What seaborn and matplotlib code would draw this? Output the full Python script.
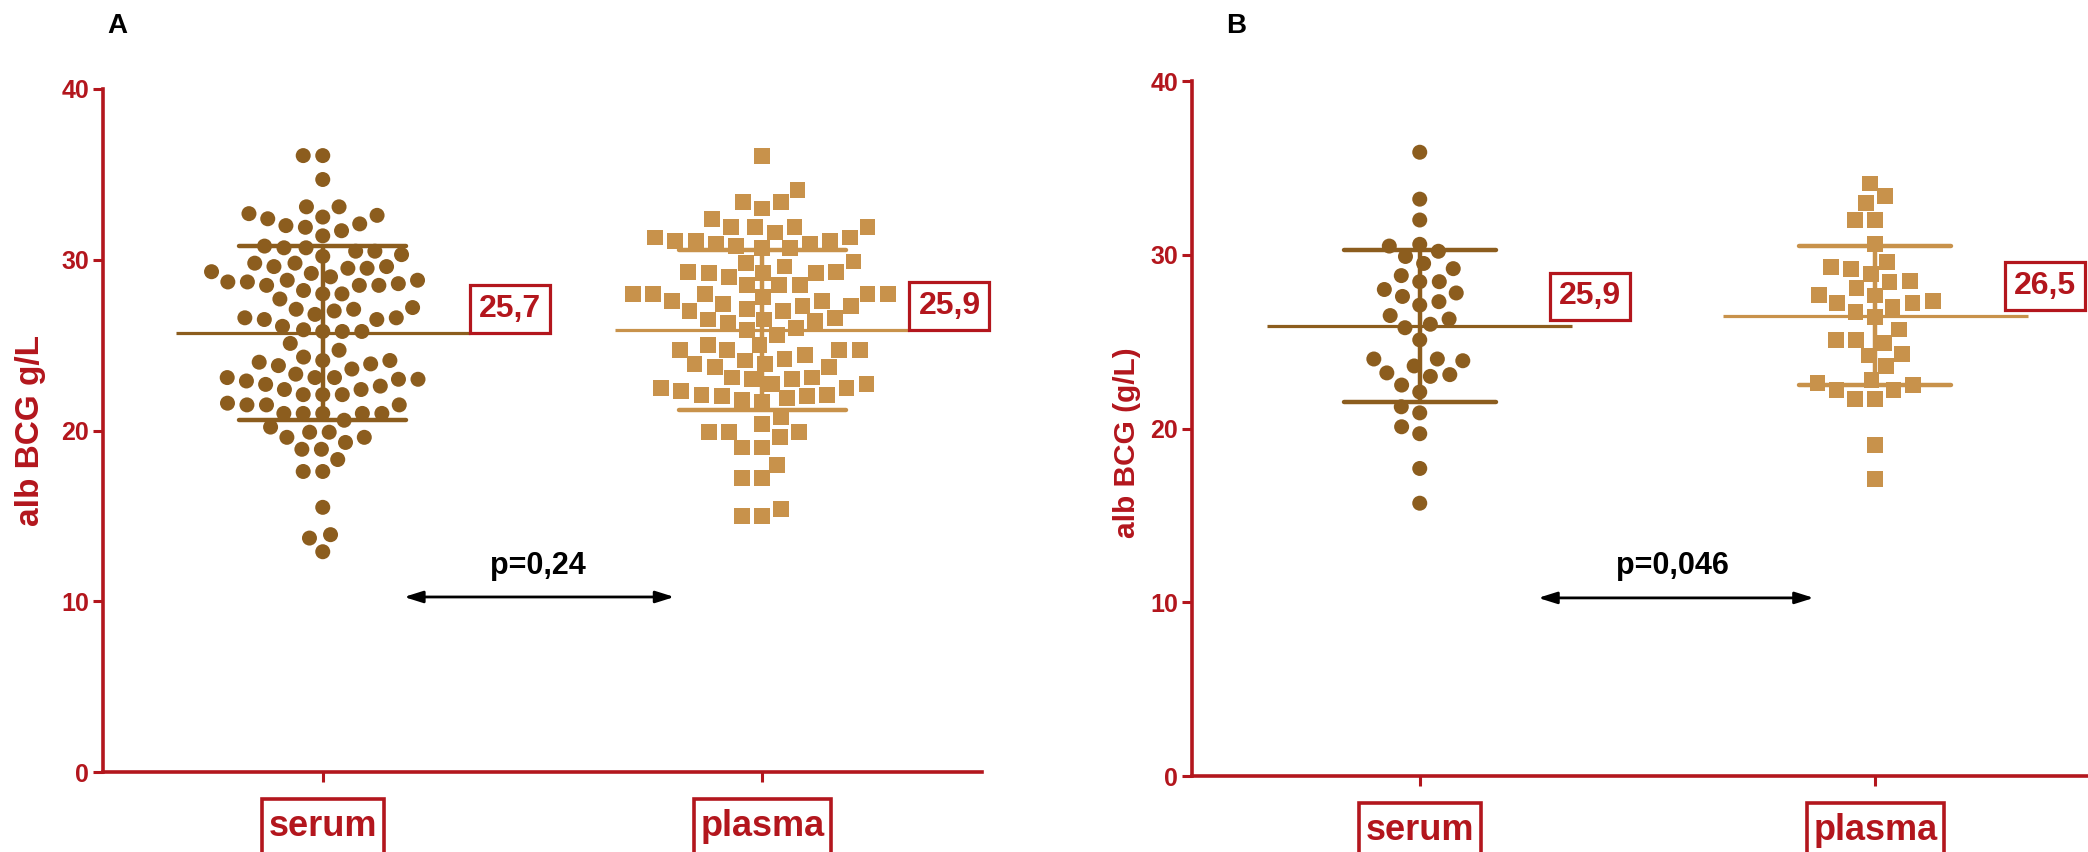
import matplotlib
matplotlib.use("Agg")
import matplotlib.pyplot as plt
from matplotlib.path import Path
import numpy as np
import pandas as pd
import seaborn as sns

sns.set_theme(style="ticks")
plt.rcParams["font.family"] = ["Liberation Sans", "DejaVu Sans"]
plt.rcParams["font.weight"] = "bold"

# ---- data -------------------------------------------------------------
groups = ["serum", "plasma"]

serum_a = [36.1, 36.1, 34.7, 33.1, 33.1,
           32.7, 32.5, 32.1, 31.9, 31.4, 31.7, 32.0, 32.4, 32.6,
           30.7, 30.5, 30.3, 30.5, 30.2, 30.7, 30.8,
           29.8, 29.6, 29.5, 29.2, 29.5, 29.0, 29.3, 29.6, 29.8,
           28.8, 28.7, 28.5, 28.2, 27.7, 28.5, 28.0, 28.5, 28.6, 28.7, 28.8,
           27.2, 27.1, 26.5, 27.0, 28.0, 26.8, 27.1,
           25.8, 26.6, 25.8, 26.1, 26.5, 25.8, 26.6, 25.9,
           25.1, 24.7,
           24.1, 24.0, 23.6, 23.3, 23.8, 24.1, 24.3, 23.9,
           23.1, 23.0, 22.7, 22.4, 22.9, 22.6, 23.0, 23.1, 23.1,
           22.1, 21.5, 21.0, 22.1, 21.0, 21.6, 21.0, 22.1, 21.0, 22.4, 21.0, 21.5, 21.5,
           20.2, 19.9, 20.6, 19.9,
           18.9, 19.6, 19.3, 19.6, 18.9,
           18.3, 17.6, 17.6, 15.5, 13.9, 13.7, 12.9]

plasma_a = [36.1, 34.1, 33.4, 33.4, 33.0, 32.4,
            31.9, 31.9, 31.9, 31.9,
            31.6, 30.9, 31.3, 30.7, 31.1, 31.1, 31.1, 31.3, 30.7, 30.8, 30.9,
            29.9, 29.6, 29.8,
            29.3, 29.3, 29.0, 29.2, 29.2, 29.2,
            28.5, 28.5, 28.5,
            28.0, 28.0, 27.8, 27.6, 28.0, 27.6, 28.0, 28.0,
            27.3, 26.5, 27.1, 27.0, 27.3, 26.6, 27.0, 27.4,
            26.5, 26.0, 26.3, 25.6, 26.4, 25.9,
            25.0, 24.7, 24.7, 24.7, 24.4, 24.7, 25.0,
            24.2, 23.9, 23.7, 23.7, 23.9, 24.1,
            22.7, 22.5, 23.1, 23.0, 23.1, 23.0, 22.5, 22.7,
            22.1, 22.0, 22.0, 21.8, 21.7, 21.9, 22.1, 22.3,
            20.8, 20.4,
            19.9, 19.6, 19.9, 19.9,
            19.0, 19.0, 18.0,
            17.2, 17.2,
            15.4, 15.0, 15.0]

serum_b = [35.9, 33.2, 32.0, 30.6, 30.2, 30.5, 29.9, 29.5, 29.2, 28.8,
           28.45, 28.45, 28.0, 27.6, 27.8, 27.3, 27.1, 26.5, 26.3, 26.0,
           25.8, 25.1, 24.0, 23.9, 24.0, 23.6, 23.1, 23.0, 23.2, 22.5,
           22.1, 21.25, 20.9, 20.1, 19.7, 17.7, 15.7]

plasma_b = [34.1, 33.4, 33.0, 32.0, 32.0, 30.6, 29.6, 29.3, 28.45, 29.2,
            28.9, 28.5, 28.1, 27.7, 27.65, 27.35, 27.2, 27.2, 27.0, 26.7,
            26.4, 25.7, 25.1, 24.2, 24.9, 25.1, 24.3, 23.6, 22.8, 22.5,
            22.6, 22.2, 22.2, 21.7, 21.7, 19.05, 17.1]

means_a = [25.7, 25.9]
sds_a = [5.1, 4.7]
means_b = [25.9, 26.5]
sds_b = [4.4, 4.0]

p_label_a = "p=0,24"
p_label_b = "p=0,046"
ylabel_a = "alb BCG g/L"
ylabel_b = "alb BCG (g/L)"
yticks = [0, 10, 20, 30, 40]

# ---- style ------------------------------------------------------------
RED = "#B3161D"
SERUM_C = "#8C5D1E"
PLASMA_C = "#C8924B"
GROUP_COLORS = [SERUM_C, PLASMA_C]
GROUP_MARKERS = ["o", "s"]
GROUP_SIZES = [10.8, 11.4]

W, H = 2088, 852
fig = plt.figure(figsize=(W / 100, H / 100), dpi=100)


def box_style(pad_x, pad_top, pad_bottom):
    """Rectangular text box with separate horizontal / top / bottom padding."""
    def style(x0, y0, width, height, mutation_size):
        x1 = x0 - pad_x * mutation_size
        x2 = x0 + width + pad_x * mutation_size
        y1 = y0 - pad_bottom * mutation_size
        y2 = y0 + height + pad_top * mutation_size
        return Path([(x1, y1), (x2, y1), (x2, y2), (x1, y2), (x1, y1)],
                    closed=True)
    return style


def add_axes_px(left, width, top, bottom):
    return fig.add_axes([left / W, 1 - bottom / H, width / W, (bottom - top) / H])


ax_a = add_axes_px(103, 879, 89, 772)
ax_b = add_axes_px(1192, 911, 81, 776)

VALUE_FS = 23
VALUE_PX, VALUE_PY = 0.28, 0.28


def draw_panel(ax, serum, plasma, means, sds, sd_half, box_dx, box_dy,
               p_label, arrow_x, p_x, ylabel, ylabel_fs, ylabel_xy, letter,
               letter_xy):
    df = pd.DataFrame({
        "group": ["serum"] * len(serum) + ["plasma"] * len(plasma),
        "value": serum + plasma,
    })
    for g, c, mk, sz in zip(groups, GROUP_COLORS, GROUP_MARKERS, GROUP_SIZES):
        sns.swarmplot(data=df[df["group"] == g], x="group", y="value",
                      order=groups, color=c, marker=mk, size=sz,
                      linewidth=2.6, edgecolor="none", ax=ax, zorder=3)

    for i, (m, s, c) in enumerate(zip(means, sds, GROUP_COLORS)):
        ax.hlines(m, i - 0.335, i + 0.335, color=c, lw=2.3, zorder=4)
        ax.hlines([m - s, m + s], i - sd_half, i + sd_half, color=c, lw=3.2,
                  zorder=4, capstyle="round")
        ax.vlines(i, m - s, m + s, color=c, lw=3.2, zorder=4)
        ax.annotate(f"{m:.1f}".replace(".", ","), xy=(i + 0.335 - box_dx, m),
                    xytext=(VALUE_PX * VALUE_FS, VALUE_PY * VALUE_FS + box_dy),
                    textcoords="offset points",
                    ha="left", va="bottom", fontsize=VALUE_FS,
                    fontweight="bold", color=RED, zorder=6,
                    annotation_clip=False,
                    bbox=dict(boxstyle=box_style(VALUE_PX, VALUE_PY, VALUE_PY),
                              fc="white", ec=RED, lw=2.3))

    ax.annotate("", xy=(arrow_x[1], 10.25), xytext=(arrow_x[0], 10.25),
                arrowprops=dict(arrowstyle="<|-|>,head_length=0.7,head_width=0.22",
                                color="black", lw=2.0, mutation_scale=16,
                                shrinkA=0, shrinkB=0))
    ax.text(p_x, 11.2, p_label, ha="center", va="bottom", fontsize=22,
            fontweight="bold", color="black")

    ax.set_xlim(-0.5, 1.5)
    ax.set_ylim(0, 40)
    ax.set_yticks(yticks)
    ax.set_xticks([0, 1])
    ax.set_xticklabels(groups)
    ax.set_xlabel("")
    ax.set_ylabel(ylabel, color=RED, fontsize=ylabel_fs, fontweight="bold",
                  va="center")
    ax.yaxis.set_label_coords(*ylabel_xy)

    sns.despine(ax=ax)
    for side in ("left", "bottom"):
        ax.spines[side].set_color(RED)
        ax.spines[side].set_linewidth(2.6)
    ax.tick_params(axis="y", colors=RED, labelcolor=RED, length=7, width=2.2,
                   labelsize=18, pad=3)
    ax.tick_params(axis="x", colors=RED, labelcolor=RED, length=7, width=2.2,
                   labelsize=26, pad=19.5)
    for lbl in ax.get_yticklabels():
        lbl.set_fontweight("bold")
    for lbl in ax.get_xticklabels():
        lbl.set_fontweight("bold")
        lbl.set_bbox(dict(boxstyle=box_style(0.18, 0.28, 1.0), fc="white",
                          ec=RED, lw=2.6))
    ax.patch.set_alpha(0)

    fig.text(letter_xy[0] / W, 1 - letter_xy[1] / H, letter, ha="center",
             va="center", fontsize=20, fontweight="bold", color="black")


draw_panel(ax_a, serum_a, plasma_a, means_a, sds_a, sd_half=0.19, box_dx=0.0,
           box_dy=0, p_label=p_label_a, arrow_x=(0.185, 0.80), p_x=0.49,
           ylabel=ylabel_a, ylabel_fs=24, ylabel_xy=(-0.082, 0.5), letter="A",
           letter_xy=(117, 26))
draw_panel(ax_b, serum_b, plasma_b, means_b, sds_b, sd_half=0.167, box_dx=0.05,
           box_dy=4, p_label=p_label_b, arrow_x=(0.26, 0.865), p_x=0.555,
           ylabel=ylabel_b, ylabel_fs=21.5, ylabel_xy=(-0.071, 0.48),
           letter="B", letter_xy=(1236, 26))

fig.savefig("out.png", dpi=100)
